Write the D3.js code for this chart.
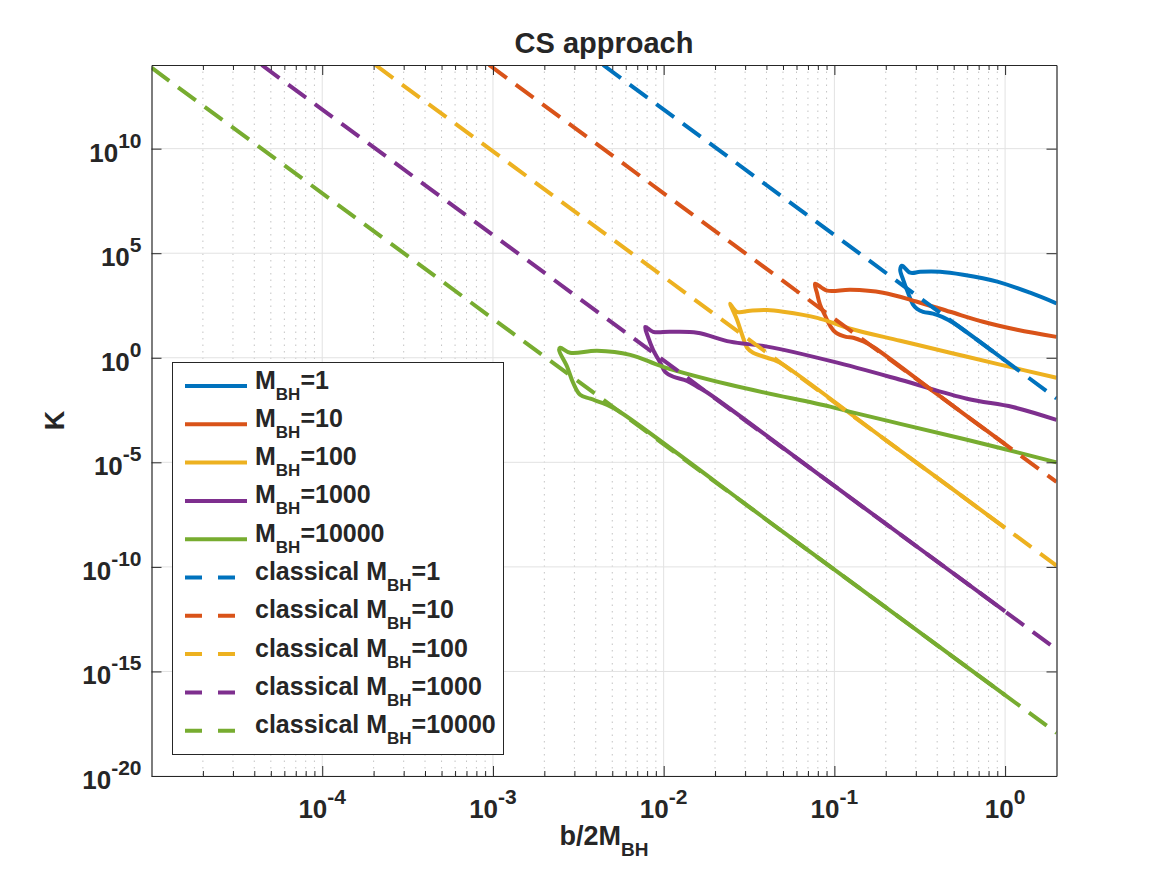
<!DOCTYPE html>
<html>
<head>
<meta charset="utf-8">
<script src="https://cdn.jsdelivr.net/npm/d3@7"></script>
<style>
  body { margin: 0; background: #fff; }
  svg text { font-family: "Liberation Sans", Arial, Helvetica, sans-serif; font-weight: bold; fill: #262626; }
</style>
</head>
<body>
<div id="chart"></div>
<script>
// masses and colours (MATLAB default order)
var masses = [1, 10, 100, 1000, 10000];
var colors = ["#0072BD", "#D95319", "#EDB120", "#7E2F8E", "#77AC30"];

// CS approach curves, [b/2M, K] (upper branch -> cusp -> lower branch)
var csM1 = [[2, 400], [1.40, 1290], [0.90, 4370], [0.568, 9300], [0.416, 12900], [0.318, 12900],
  [0.278, 11700], [0.249, 25100], [0.243, 16200], [0.253, 5370], [0.270, 1290], [0.289, 347],
  [0.305, 219], [0.331, 158], [0.378, 129], [0.428, 91], [0.468, 62], [0.525, 35], [0.75, 4.2],
  [1, 0.74]];
var csM10 = [[2, 10], [1.175, 21.9], [0.743, 52.5], [0.476, 158], [0.305, 479], [0.193, 1290],
  [0.124, 1780], [0.0906, 1620], [0.0771, 3470], [0.0793, 1150], [0.0824, 347], [0.0883, 102],
  [0.0944, 33.9], [0.102, 15.8], [0.117, 10], [0.129, 9.1], [0.148, 6.0], [0.170, 3.2],
  [0.4, 0.0181], [1, 7.4e-5]];
var csM100 = [[2, 0.11], [0.935, 0.47], [0.476, 1.74], [0.243, 6.5], [0.124, 24.5], [0.0793, 81],
  [0.0501, 158], [0.0404, 190], [0.0321, 178], [0.0269, 158], [0.0245, 380], [0.0252, 219],
  [0.0269, 66], [0.0288, 12.6], [0.0308, 3.0], [0.0334, 1.74], [0.0404, 1.0], [0.0447, 0.76],
  [0.0501, 0.47], [0.2, 1.16e-4], [1, 7.4e-9]];
var csM1000 = [[2, 1.07e-3], [1.11, 4.4e-3], [0.598, 0.011], [0.243, 0.089], [0.0984, 0.65],
  [0.0404, 3.4], [0.0245, 5.9], [0.0157, 15.8], [0.0109, 17.4], [0.00867, 17.4], [0.0078, 30],
  [0.00813, 9.1], [0.00867, 2.4], [0.00955, 0.575], [0.0102, 0.214], [0.0114, 0.123],
  [0.0137, 0.079], [0.0158, 0.040], [0.0178, 0.023], [0.1, 7.4e-7], [1, 7.4e-13]];
var csM10000 = [[2, 1.0e-5], [0.598, 1.2e-4], [0.243, 6.9e-4], [0.124, 2.6e-3], [0.0944, 4.6e-3],
  [0.0245, 0.051], [0.00993, 0.37], [0.00637, 1.38], [0.00407, 2.14], [0.00283, 1.74],
  [0.00248, 3.0], [0.00244, 2.4], [0.00272, 0.37], [0.00295, 0.063], [0.00324, 0.017],
  [0.00372, 0.011], [0.00467, 5.6e-3], [0.0055, 2.7e-3], [0.05, 4.7e-9], [1, 7.4e-17]];

// classical curves (straight in log-log), [b/2M, K]
var classicalM1 = [[4.42e-3, 1e14], [2, 1.15e-2]];
var classicalM10 = [[9.5e-4, 1e14], [2, 1.15e-6]];
var classicalM100 = [[2.05e-4, 1e14], [2, 1.15e-10]];
var classicalM1000 = [[4.42e-5, 1e14], [2, 1.15e-14]];
var classicalM10000 = [[1e-5, 7.4e13], [2, 1.15e-18]];

var csSeries = [csM1, csM10, csM100, csM1000, csM10000];
var classicalSeries = [classicalM1, classicalM10, classicalM100, classicalM1000, classicalM10000];

// axes ticks
var xTickLabels = [1e-4, 1e-3, 1e-2, 1e-1, 1e0];
var yTickLabels = [1e-20, 1e-15, 1e-10, 1e-5, 1e0, 1e5, 1e10];

var W = 1167, H = 875;
var axL = 151.5, axR = 1056.5, axT = 65, axB = 776;

var svg = d3.select("#chart").append("svg").attr("width", W).attr("height", H);

var xScale = d3.scaleLog().domain([1e-5, 2]).range([axL, axR]);
var yScale = d3.scaleLog().domain([1e-20, 1e14]).range([axB, axT]);

function isDecade(v) {
  var l = Math.log10(v);
  return Math.abs(l - Math.round(l)) < 1e-9;
}
var allX = xScale.ticks();
var minorX = allX.filter(function (v) { return !isDecade(v) && v < 2; });
var majorX = allX.filter(function (v) { return isDecade(v) && v > 1e-5; });

// grid
var grid = svg.append("g");
grid.selectAll(".minx").data(minorX).join("line")
  .attr("x1", d => xScale(d)).attr("x2", d => xScale(d))
  .attr("y1", axT).attr("y2", axB)
  .attr("stroke", "#c4c4c4").attr("stroke-width", 1).attr("stroke-dasharray", "1.5,5");
grid.selectAll(".majx").data(majorX).join("line")
  .attr("x1", d => xScale(d)).attr("x2", d => xScale(d))
  .attr("y1", axT).attr("y2", axB)
  .attr("stroke", "#e2e2e2").attr("stroke-width", 1);
grid.selectAll(".majy").data(yTickLabels).join("line")
  .attr("x1", axL).attr("x2", axR)
  .attr("y1", d => yScale(d)).attr("y2", d => yScale(d))
  .attr("stroke", "#e2e2e2").attr("stroke-width", 1);

// clip
svg.append("clipPath").attr("id", "clip").append("rect")
  .attr("x", axL).attr("y", axT).attr("width", axR - axL).attr("height", axB - axT);

var line = d3.line().x(d => xScale(d[0])).y(d => yScale(d[1]))
  .curve(d3.curveCatmullRom.alpha(0.5));
var straight = d3.line().x(d => xScale(d[0])).y(d => yScale(d[1]));
var plot = svg.append("g").attr("clip-path", "url(#clip)");

plot.selectAll(".cs").data(csSeries).join("path")
  .attr("d", d => line(d))
  .attr("fill", "none")
  .attr("stroke", (d, i) => colors[i])
  .attr("stroke-width", 4)
  .attr("stroke-linejoin", "round");

plot.selectAll(".cl").data(classicalSeries).join("path")
  .attr("d", d => straight(d))
  .attr("fill", "none")
  .attr("stroke", (d, i) => colors[i])
  .attr("stroke-width", 4)
  .attr("stroke-dasharray", "22,11");

// axes (ticks inside, MATLAB style)
function styleAxis(g) {
  g.attr("color", "#262626");
  g.selectAll("path").attr("stroke-width", 1.2);
}
svg.append("g").attr("transform", `translate(0,${axB})`)
  .call(d3.axisBottom(xScale).tickValues(minorX).tickSize(-5).tickSizeOuter(0).tickFormat(""))
  .call(styleAxis);
svg.append("g").attr("transform", `translate(0,${axB})`)
  .call(d3.axisBottom(xScale).tickValues(majorX).tickSize(-10).tickSizeOuter(0).tickFormat(""))
  .call(styleAxis);
svg.append("g").attr("transform", `translate(0,${axT})`)
  .call(d3.axisTop(xScale).tickValues(minorX).tickSize(-5).tickSizeOuter(0).tickFormat(""))
  .call(styleAxis);
svg.append("g").attr("transform", `translate(0,${axT})`)
  .call(d3.axisTop(xScale).tickValues(majorX).tickSize(-10).tickSizeOuter(0).tickFormat(""))
  .call(styleAxis);
svg.append("g").attr("transform", `translate(${axL},0)`)
  .call(d3.axisLeft(yScale).tickValues(yTickLabels).tickSize(-10).tickSizeOuter(0).tickFormat(""))
  .call(styleAxis);
svg.append("g").attr("transform", `translate(${axR},0)`)
  .call(d3.axisRight(yScale).tickValues(yTickLabels).tickSize(-10).tickSizeOuter(0).tickFormat(""))
  .call(styleAxis);

// tick labels 10^n
function powLabel(sel, base, exp, mainSize, supSize) {
  sel.append("tspan").style("font-size", mainSize + "px").text(base);
  sel.append("tspan").attr("dy", -14).style("font-size", supSize + "px").text(exp);
}
xTickLabels.forEach(function (v) {
  var t = svg.append("text").attr("x", xScale(v)).attr("y", axB + 42).attr("text-anchor", "middle");
  powLabel(t, "10", String(Math.round(Math.log10(v))), 26, 21);
});
yTickLabels.forEach(function (v) {
  var t = svg.append("text").attr("x", axL - 10).attr("y", yScale(v) + 13).attr("text-anchor", "end");
  powLabel(t, "10", String(Math.round(Math.log10(v))), 26, 21);
});

// title and axis labels
svg.append("text").attr("x", (axL + axR) / 2).attr("y", 53).attr("text-anchor", "middle")
  .style("font-size", "29px").text("CS approach");

var xl = svg.append("text").attr("x", (axL + axR) / 2).attr("y", 845).attr("text-anchor", "middle")
  .style("font-size", "27px");
xl.append("tspan").text("b/2M");
xl.append("tspan").attr("dy", 11).style("font-size", "19px").text("BH");

svg.append("text").attr("transform", `translate(64,${(axT + axB) / 2}) rotate(-90)`)
  .attr("text-anchor", "middle").style("font-size", "27px").text("K");

// legend
var legX = 172.5, legY = 362.5, legW = 331, legH = 392, rowH = 38.3, firstRow = 386;
var leg = svg.append("g");
leg.append("rect").attr("x", legX).attr("y", legY).attr("width", legW).attr("height", legH)
  .attr("fill", "#fff").attr("stroke", "#262626").attr("stroke-width", 1);

var legendItems = [];
masses.forEach(function (m, i) { legendItems.push({ pre: "", m: m, color: colors[i], dash: false }); });
masses.forEach(function (m, i) { legendItems.push({ pre: "classical ", m: m, color: colors[i], dash: true }); });

legendItems.forEach(function (d, i) {
  var y = firstRow + i * rowH;
  leg.append("line").attr("x1", 185).attr("x2", 247).attr("y1", y).attr("y2", y)
    .attr("stroke", d.color).attr("stroke-width", 4)
    .attr("stroke-dasharray", d.dash ? "17,16" : null);
  var t = leg.append("text").attr("x", 255).attr("y", y + 2.5).style("font-size", "25px");
  t.append("tspan").text(d.pre + "M");
  t.append("tspan").attr("dy", 11).style("font-size", "17px").text("BH");
  t.append("tspan").attr("dy", -11).text("=" + d.m);
});
</script>
</body>
</html>
